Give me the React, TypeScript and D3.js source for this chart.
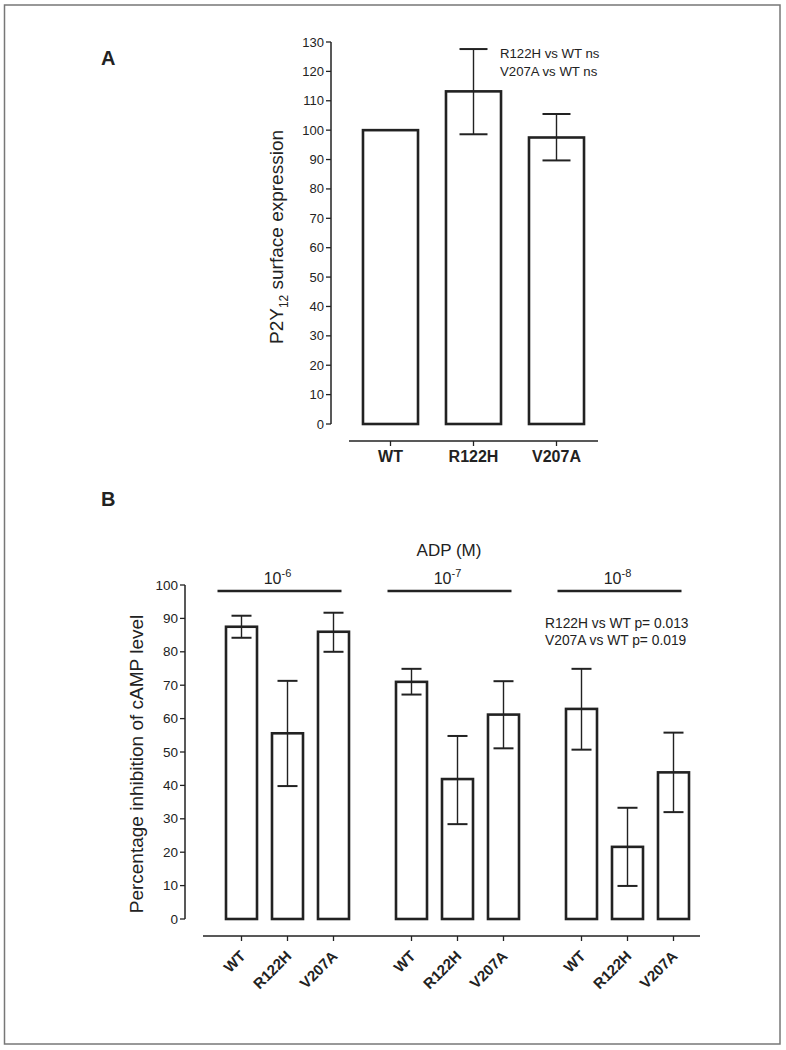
import React from "react";
import * as d3 from "d3";

const catsA = ["WT", "R122H", "V207A"];
const meanA = [100, 113.2, 97.5];
const errHiA = [100, 127.6, 105.5];
const errLoA = [100, 98.6, 89.7];
const ticksA = d3.range(0, 131, 10);

const groupsB = ["-6", "-7", "-8"];
const catsB = ["WT", "R122H", "V207A"];
const meanB = [
  [87.5, 55.6, 86.0],
  [71.0, 41.9, 61.2],
  [62.9, 21.6, 43.9],
];
const errHiB = [
  [90.8, 71.3, 91.7],
  [74.9, 54.8, 71.2],
  [74.9, 33.3, 55.8],
];
const errLoB = [
  [84.2, 39.8, 80.0],
  [67.2, 28.4, 51.1],
  [50.7, 9.9, 32.0],
];
const ticksB = d3.range(0, 101, 10);

const FONT = "'Liberation Sans', Arial, Helvetica, sans-serif";
const INK = "#222";

export default function App() {
  // Panel A scales
  const yA = d3.scaleLinear().domain([0, 130]).range([424, 42]);
  const xA = d3
    .scaleBand<string>()
    .domain(catsA)
    .range([349, 598])
    .paddingInner(0.337)
    .paddingOuter(0.1685);
  const axisAx = 331;

  // Panel B scales
  const yB = d3.scaleLinear().domain([0, 100]).range([919, 585]);
  const gB = d3.scalePoint<string>().domain(groupsB).range([287.5, 627.5]);
  const sB = d3
    .scaleBand<string>()
    .domain(catsB)
    .range([-69, 69])
    .paddingInner(0.326)
    .paddingOuter(0.163);
  const axisBx = 185;

  const capA = 14;
  const capB = 10;

  return (
    <svg
      width={786}
      height={1050}
      style={{ position: "absolute", left: 0, top: 0, background: "#fff" }}
      fontFamily={FONT}
    >
      <rect x={0} y={0} width={786} height={1050} fill="#fff" />
      <rect x={4.5} y={5} width={775.5} height={1039} fill="none" stroke="#777" strokeWidth={1.5} />

      {/* Panel A */}
      <text x={101} y={65} fontSize={20} fontWeight="bold" fill={INK}>A</text>
      <text
        transform={`translate(283,${(yA(0) + yA(130)) / 2 + 4}) rotate(-90)`}
        textAnchor="middle"
        fontSize={19}
        fill={INK}
      >
        P2Y<tspan fontSize={12} dy={5}>12</tspan>
        <tspan dy={-5}> surface expression</tspan>
      </text>
      <line x1={axisAx} x2={axisAx} y1={yA(0)} y2={yA(130)} stroke={INK} strokeWidth={1.5} />
      {ticksA.map((t) => (
        <g key={"ta" + t}>
          <line x1={axisAx - 5} x2={axisAx} y1={yA(t)} y2={yA(t)} stroke={INK} strokeWidth={1.3} />
          <text x={axisAx - 7} y={yA(t) + 4.5} textAnchor="end" fontSize={13} fill={INK}>
            {t}
          </text>
        </g>
      ))}
      {catsA.map((c, i) => {
        const x0 = xA(c)!;
        const w = xA.bandwidth();
        const cx = x0 + w / 2;
        return (
          <g key={"ba" + c}>
            <rect
              x={x0}
              y={yA(meanA[i])}
              width={w}
              height={yA(0) - yA(meanA[i])}
              fill="#fff"
              stroke={INK}
              strokeWidth={2.6}
            />
            {errHiA[i] !== errLoA[i] && (
              <g stroke={INK}>
                <line x1={cx} x2={cx} y1={yA(errHiA[i])} y2={yA(errLoA[i])} strokeWidth={1.4} />
                <line x1={cx - capA} x2={cx + capA} y1={yA(errHiA[i])} y2={yA(errHiA[i])} strokeWidth={2} />
                <line x1={cx - capA} x2={cx + capA} y1={yA(errLoA[i])} y2={yA(errLoA[i])} strokeWidth={2} />
              </g>
            )}
          </g>
        );
      })}
      <line x1={349} x2={598} y1={441} y2={441} stroke={INK} strokeWidth={1.5} />
      {catsA.map((c) => {
        const cx = xA(c)! + xA.bandwidth() / 2;
        return (
          <g key={"xa" + c}>
            <line x1={cx} x2={cx} y1={441} y2={446} stroke={INK} strokeWidth={1.3} />
            <text x={cx} y={462} textAnchor="middle" fontSize={16} fontWeight="bold" fill={INK}>
              {c}
            </text>
          </g>
        );
      })}
      <text x={500} y={58} fontSize={13.2} fill={INK}>R122H vs WT ns</text>
      <text x={500} y={76} fontSize={13.2} fill={INK}>V207A vs WT ns</text>

      {/* Panel B */}
      <text x={101} y={506} fontSize={20} fontWeight="bold" fill={INK}>B</text>
      <text x={449} y={556} textAnchor="middle" fontSize={17} fill={INK}>ADP (M)</text>
      <text
        transform={`translate(143,${(yB(0) + yB(100)) / 2 + 12}) rotate(-90)`}
        textAnchor="middle"
        fontSize={19}
        fill={INK}
      >
        Percentage inhibition of cAMP level
      </text>
      <line x1={axisBx} x2={axisBx} y1={yB(0)} y2={yB(100)} stroke={INK} strokeWidth={1.5} />
      {ticksB.map((t) => (
        <g key={"tb" + t}>
          <line x1={axisBx - 5} x2={axisBx} y1={yB(t)} y2={yB(t)} stroke={INK} strokeWidth={1.3} />
          <text x={axisBx - 7} y={yB(t) + 4.5} textAnchor="end" fontSize={13.5} fill={INK}>
            {t}
          </text>
        </g>
      ))}
      {groupsB.map((g, gi) => {
        const gc = gB(g)!;
        return (
          <g key={"g" + g}>
            <line x1={gc - 70} x2={gc + 54} y1={591} y2={591} stroke={INK} strokeWidth={2.6} />
            <text x={gc - 10} y={584} textAnchor="middle" fontSize={16} fill={INK}>
              10<tspan fontSize={11} dy={-7}>{g}</tspan>
            </text>
            {catsB.map((c, i) => {
              const x0 = gc + sB(c)!;
              const w = sB.bandwidth();
              const cx = x0 + w / 2;
              const v = meanB[gi][i];
              return (
                <g key={"b" + g + c}>
                  <rect
                    x={x0}
                    y={yB(v)}
                    width={w}
                    height={yB(0) - yB(v)}
                    fill="#fff"
                    stroke={INK}
                    strokeWidth={2.6}
                  />
                  <g stroke={INK}>
                    <line x1={cx} x2={cx} y1={yB(errHiB[gi][i])} y2={yB(errLoB[gi][i])} strokeWidth={1.4} />
                    <line x1={cx - capB} x2={cx + capB} y1={yB(errHiB[gi][i])} y2={yB(errHiB[gi][i])} strokeWidth={2} />
                    <line x1={cx - capB} x2={cx + capB} y1={yB(errLoB[gi][i])} y2={yB(errLoB[gi][i])} strokeWidth={2} />
                  </g>
                  <line x1={cx} x2={cx} y1={936} y2={941} stroke={INK} strokeWidth={1.3} />
                  <text
                    transform={`translate(${cx + 5},${957}) rotate(-45)`}
                    textAnchor="end"
                    fontSize={15}
                    fontWeight="bold"
                    fill={INK}
                  >
                    {c}
                  </text>
                </g>
              );
            })}
          </g>
        );
      })}
      <line x1={203} x2={700} y1={936} y2={936} stroke={INK} strokeWidth={1.5} />
      <text x={545} y={628} fontSize={13.8} fill={INK}>R122H vs WT p= 0.013</text>
      <text x={545} y={645} fontSize={13.8} fill={INK}>V207A vs WT p= 0.019</text>
    </svg>
  );
}
